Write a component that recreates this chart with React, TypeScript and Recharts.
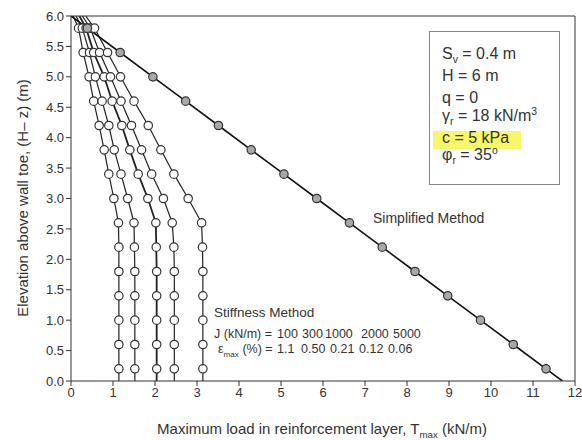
import { LineChart, Line, XAxis, YAxis, ReferenceLine } from 'recharts';

// elevation of each reinforcement layer (m), bottom to top
const elevations = [0.2, 0.6, 1.0, 1.4, 1.8, 2.2, 2.6, 3.0, 3.4, 3.8, 4.2, 4.6, 5.0, 5.4, 5.8];

// Tmax (kN/m) per layer, same order as elevations
const simplified = [11.31, 10.53, 9.75, 8.97, 8.19, 7.41, 6.63, 5.85, 5.07, 4.29, 3.51, 2.73, 1.95, 1.17, 0.39];
const j100 = [1.14, 1.14, 1.14, 1.14, 1.14, 1.14, 1.13, 1.02, 0.9, 0.79, 0.67, 0.54, 0.43, 0.29, 0.18];
const j300 = [1.52, 1.52, 1.52, 1.52, 1.52, 1.51, 1.5, 1.35, 1.19, 1.03, 0.9, 0.74, 0.58, 0.44, 0.27];
const j1000 = [2.04, 2.04, 2.04, 2.04, 2.04, 2.03, 2.02, 1.83, 1.6, 1.4, 1.21, 0.98, 0.79, 0.54, 0.36];
const j2000 = [2.46, 2.46, 2.46, 2.46, 2.46, 2.45, 2.41, 2.2, 1.92, 1.68, 1.44, 1.19, 0.94, 0.68, 0.46];
const j5000 = [3.14, 3.14, 3.14, 3.14, 3.14, 3.13, 3.11, 2.79, 2.45, 2.14, 1.84, 1.5, 1.18, 0.87, 0.56];

// where each curve meets the toe (y=0) and the crest (y=6)
const simplifiedEnds = [11.7, 0];
const stiffBase = [1.14, 1.52, 2.04, 2.46, 3.14];
const stiffTop = [0.05, 0.12, 0.2, 0.27, 0.35];

const xTicks = [0, 1, 2, 3, 4, 5, 6, 7, 8, 9, 10, 11, 12];
const yTicks = [0, 0.5, 1, 1.5, 2, 2.5, 3, 3.5, 4, 4.5, 5, 5.5, 6];

const jLabels = ['100', '300', '1000', '2000', '5000'];
const epsLabels = ['1.1', '0.50', '0.21', '0.12', '0.06'];

const buildCurve = (vals: number[], base: number, top: number) => [
  { x: base, y: 0, end: true },
  ...elevations.map((e, i) => ({ x: vals[i], y: e })),
  { x: top, y: 6, end: true },
];

const stiffCurves = [j100, j300, j1000, j2000, j5000].map((v, i) =>
  buildCurve(v, stiffBase[i], stiffTop[i])
);
const simplifiedCurve = buildCurve(simplified, simplifiedEnds[0], simplifiedEnds[1]);

const INK = '#333';

const makeDot = (fill: string) => (props: any) => {
  const { cx, cy, payload, index } = props;
  if (payload.end) return <g key={index} />;
  return <circle key={index} cx={cx} cy={cy} r={4.2} fill={fill} stroke={INK} strokeWidth={1.2} />;
};

const txt = (left: number, center: number, size: number, extra: any = {}) => ({
  position: 'absolute' as const,
  left,
  top: center - size / 2,
  fontSize: size,
  lineHeight: `${size}px`,
  whiteSpace: 'pre' as const,
  ...extra,
});

const sub = { fontSize: '0.65em', verticalAlign: 'sub', lineHeight: 0 };
const sup = { fontSize: '0.65em', verticalAlign: 'super', lineHeight: 0 };

export default function App() {
  const jCols = [277, 302, 325, 361, 393];
  const eCols = [277, 301, 330, 359, 388];
  return (
    <div
      style={{
        position: 'absolute',
        left: 0,
        top: 0,
        width: 582,
        height: 440,
        background: '#fff',
        fontFamily: '"Liberation Sans", Arial, sans-serif',
        color: INK,
      }}
    >
      <LineChart width={582} height={440} margin={{ top: 16, right: 7, bottom: 0, left: 0 }}>
        <XAxis
          dataKey="x"
          type="number"
          domain={[0, 12]}
          ticks={xTicks}
          allowDataOverflow
          height={59}
          stroke={INK}
          tickSize={5}
          tick={{ fontSize: 13, fill: INK, fontFamily: 'Liberation Sans' }}
        />
        <YAxis
          dataKey="y"
          type="number"
          domain={[0, 6]}
          ticks={yTicks}
          allowDataOverflow
          width={71}
          stroke={INK}
          tickSize={5}
          tickFormatter={(v: number) => v.toFixed(1)}
          tick={{ fontSize: 13, fill: INK, fontFamily: 'Liberation Sans' }}
        />
        <ReferenceLine y={6} stroke={INK} strokeWidth={1} />
        <ReferenceLine x={12} stroke={INK} strokeWidth={1} />
        {stiffCurves.map((c, i) => (
          <Line
            key={i}
            data={c}
            dataKey="y"
            type="linear"
            stroke="#222"
            strokeWidth={i === 2 ? 1.8 : 1.2}
            dot={makeDot('#fff')}
            activeDot={false}
            isAnimationActive={false}
          />
        ))}
        <Line
          data={simplifiedCurve}
          dataKey="y"
          type="linear"
          stroke="#111"
          strokeWidth={1.6}
          dot={makeDot('#a8a8a8')}
          activeDot={false}
          isAnimationActive={false}
        />
      </LineChart>

      {/* annotations */}
      <div style={txt(373, 218, 14)}>Simplified Method</div>
      <div style={txt(214, 313, 13.5)}>Stiffness Method</div>
      <div style={txt(214, 334, 12.5)}>J (kN/m) =</div>
      {jLabels.map((l, i) => (
        <div key={l} style={txt(jCols[i], 334, 12.5)}>{l}</div>
      ))}
      <div style={txt(218, 349, 12.5)}>
        ε<span style={sub}>max</span> (%) =
      </div>
      {epsLabels.map((l, i) => (
        <div key={l} style={txt(eCols[i], 349, 12.5)}>{l}</div>
      ))}

      {/* parameter box */}
      <div
        style={{
          position: 'absolute',
          left: 429,
          top: 31,
          width: 129,
          height: 152,
          border: '1px solid #888',
        }}
      />
      <div style={{ position: 'absolute', left: 433, top: 131, width: 88, height: 18, background: '#f7f76c' }} />
      <div style={txt(442, 54, 16)}>
        S<span style={sub}>v</span> = 0.4 m
      </div>
      <div style={txt(442, 76, 16)}>H = 6 m</div>
      <div style={txt(442, 98, 16)}>q = 0</div>
      <div style={txt(442, 116, 16)}>
        γ<span style={sub}>r</span> = 18 kN/m<span style={sup}>3</span>
      </div>
      <div style={txt(442, 138, 16)}>c = 5 kPa</div>
      <div style={txt(442, 155, 16)}>
        φ<span style={sub}>r</span> = 35<span style={sup}>o</span>
      </div>

      {/* axis titles */}
      <div
        style={{
          position: 'absolute',
          left: 22,
          top: 198,
          fontSize: 15,
          whiteSpace: 'nowrap',
          transform: 'translate(-50%, -50%) rotate(-90deg)',
        }}
      >
        Elevation above wall toe, (H– z) (m)
      </div>
      <div
        style={{
          position: 'absolute',
          left: 322,
          top: 428,
          fontSize: 15,
          whiteSpace: 'nowrap',
          transform: 'translate(-50%, -50%)',
        }}
      >
        Maximum load in reinforcement layer, T<span style={sub}>max</span> (kN/m)
      </div>
    </div>
  );
}
